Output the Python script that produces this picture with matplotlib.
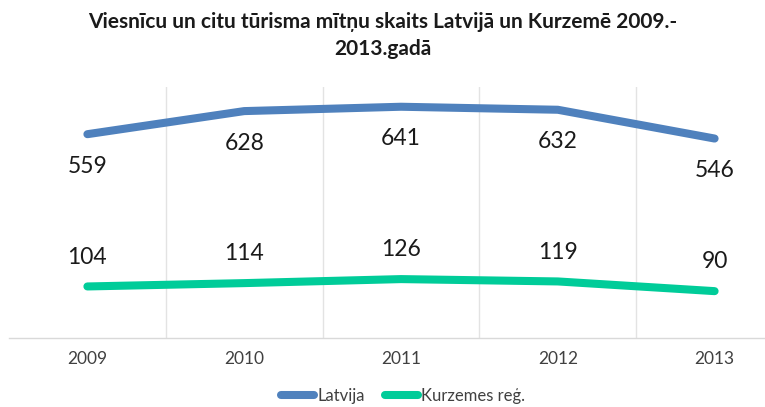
import matplotlib
matplotlib.use("Agg")
import matplotlib.pyplot as plt

years = ["2009", "2010", "2011", "2012", "2013"]
latvija = [559, 628, 641, 632, 546]
kurzeme = [104, 114, 126, 119, 90]

plt.rcParams["font.family"] = ["Lato", "DejaVu Sans"]

fig = plt.figure(figsize=(7.65, 4.07), dpi=100)
ax = fig.add_axes([9 / 765, 1 - 338 / 407, 784 / 765, 251 / 407])

x = list(range(len(years)))
ax.plot(x, latvija, color="#4f81bd", lw=5.8, solid_capstyle="round", label="Latvija")
ax.plot(x, kurzeme, color="#00cc99", lw=5.8, solid_capstyle="round", label="Kurzemes reģ.")

for i, v in enumerate(latvija):
    ax.annotate(str(v), (i, v), xytext=(0, -23), textcoords="offset points",
                ha="center", va="center", fontsize=16.5, color="#1a1a1a")
for i, v in enumerate(kurzeme):
    ax.annotate(str(v), (i, v), xytext=(0, 21), textcoords="offset points",
                ha="center", va="center", fontsize=16.5, color="#1a1a1a")

ax.set_xlim(-0.5, 4.5)
ax.set_ylim(-50, 700)
ax.set_yticks([])
ax.set_xticks(x)
ax.set_xticklabels(years, fontsize=12.5, color="#404040")
ax.set_xticks([0.5, 1.5, 2.5, 3.5], minor=True)
ax.grid(True, which="minor", axis="x", color="#e3e3e3", lw=1)
ax.tick_params(axis="x", which="both", length=0, pad=9)
for s in ["top", "left", "right"]:
    ax.spines[s].set_visible(False)
ax.spines["bottom"].set_color("#d9d9d9")
ax.spines["bottom"].set_linewidth(1)

fig.text(0.5, 1 - 22 / 407, "Viesnīcu un citu tūrisma mītņu skaits Latvijā un Kurzemē 2009.-",
         ha="center", va="center", fontsize=15, fontweight="bold", color="#1a1a1a")
fig.text(0.5, 1 - 49 / 407, "2013.gadā",
         ha="center", va="center", fontsize=15, fontweight="bold", color="#1a1a1a")

fig.legend(loc="center", bbox_to_anchor=(403 / 765, 1 - 396 / 407), ncol=2, frameon=False,
           fontsize=12, handlelength=2.0, handletextpad=0.2, columnspacing=1.2,
           labelcolor="#404040")

fig.savefig("out.png", dpi=100)
